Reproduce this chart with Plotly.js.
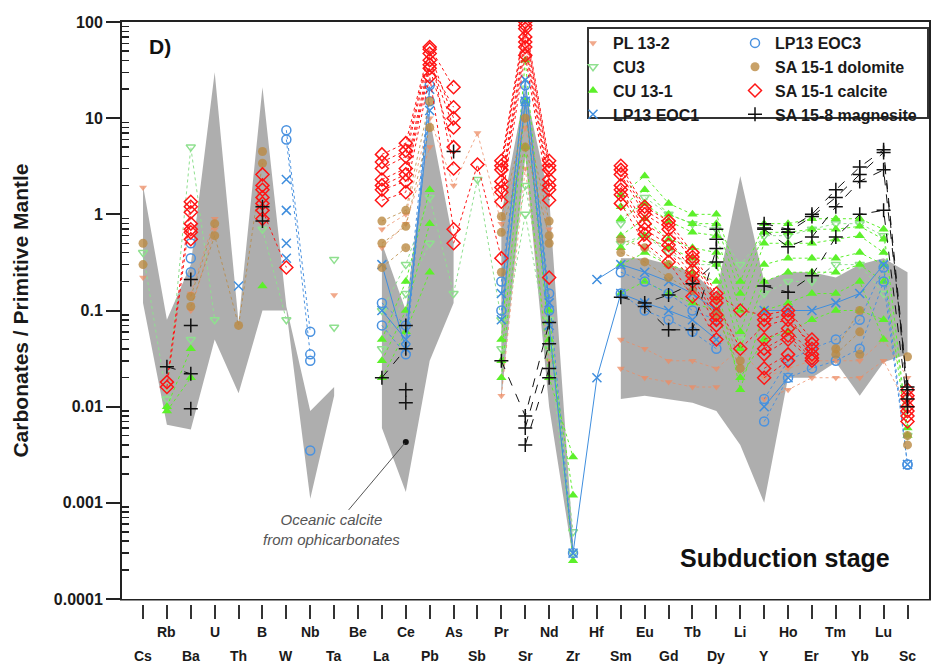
<!DOCTYPE html>
<html><head><meta charset="utf-8">
<script src="https://cdn.plot.ly/plotly-3.0.1.min.js"></script>
<style>html,body{margin:0;padding:0;background:#fff}#chart{width:932px;height:670px}</style>
</head><body><div id="chart"></div>
<script>
const _ = null;
// Element order (x categories)
const elements = ['Cs','Rb','Ba','U','Th','B','W','Nb','Ta','Be','La','Ce','Pb','As','Sb','Pr','Sr','Nd','Zr','Hf','Sm','Eu','Gd','Tb','Dy','Li','Y','Ho','Er','Tm','Yb','Lu','Sc'];
const yTickVals = [0.0001, 0.001, 0.01, 0.1, 1, 10, 100];
const yTickText = ['0.0001', '0.001', '0.01', '0.1', '1', '10', '100'];

// Oceanic calcite from ophicarbonates (grey field): upper / lower bounds
const fieldUpper = [2.0, 0.08, 0.3, 30, 0.075, 21, 0.11, 0.009, 0.016, _, 0.5, 0.1, 10, 0.5, _, 1.0, 20, 1.5, 0.0004, _, 0.35, 0.35, 0.3, 0.25, 0.15, 2.5, 0.2, 0.25, 0.25, 0.22, 0.3, 0.35, 0.25];
const fieldLower = [0.12, 0.0065, 0.0058, 0.05, 0.0138, 0.1, 0.1, 0.0011, 0.013, _, 0.006, 0.0013, 0.03, 0.12, _, 0.012, 4, 0.01, 0.00026, _, 0.012, 0.013, 0.012, 0.011, 0.009, 0.004, 0.001, 0.02, 0.02, 0.029, 0.013, 0.029, 0.035];
const oceanicX = ['Ce'];
const oceanicY = [0.0043];

// PL 13-2
const pl13_2 = [
  [1.9, _, 0.15, 0.9, _, _, _, _, 0.145, _, 0.7, 1.0, 10, 2.0, 7, 0.8, 8, 0.7, _, _, 0.05, 0.04, 0.03, 0.03, 0.025, 0.04, 0.02, 0.025, 0.03, 0.03, 0.03, 0.05, 0.02],
  [0.22, _, 0.1, 0.7, _, _, _, _, _, _, 0.45, 0.8, 5, _, _, 0.013, 3, 0.03, _, _, 0.025, 0.02, 0.018, 0.016, 0.016, _, 0.012, 0.015, 0.02, 0.02, 0.02, 0.03, 0.01]
];
// CU3
const cu3 = [
  [0.4, 0.012, 5, 0.08, _, 0.7, 0.08, _, 0.34, _, 0.1, 0.3, 1.5, 0.15, 2.3, 0.08, 2, 0.08, 0.0005, _, 0.8, 1.5, 1.0, 0.8, 0.7, 0.3, 0.6, 0.6, 0.7, 0.8, 0.8, 0.6, 0.005],
  [_, _, 0.05, _, _, _, _, _, 0.067, _, 0.04, 0.15, 0.5, _, _, 0.04, 1, 0.04, 0.0003, _, 0.5, 0.6, 0.4, 0.3, 0.3, 0.05, 0.15, 0.2, 0.2, 0.3, 0.3, 0.15, _]
];
// CU 13-1
const cu13_1 = [
  [_, 0.01, 0.04, _, _, 0.18, _, _, _, _, 0.05, 0.2, 1.8, _, _, 0.05, 40, 0.1, 0.00025, _, 1.6, 2.5, 1.3, 1.0, 1.0, 0.2, 0.8, 0.8, 0.9, 0.9, 0.9, 0.7, 0.006],
  [_, 0.009, 0.02, _, _, _, _, _, _, _, 0.03, 0.1, 0.8, _, _, 0.03, 15, 0.05, 0.0012, _, 0.6, 0.9, 0.55, 0.45, 0.4, 0.06, 0.3, 0.35, 0.35, 0.35, 0.4, 0.3, 0.005],
  [_, _, _, _, _, _, _, _, _, _, 0.02, 0.06, 0.25, _, _, 0.02, 5, 0.02, 0.003, _, 0.15, 0.2, 0.15, 0.12, 0.1, 0.02, 0.05, 0.06, 0.08, 0.1, 0.1, 0.08, _],
  [_, _, _, _, _, _, _, _, _, _, _, _, _, _, _, _, _, _, _, _, 0.3, 0.4, 0.3, 0.25, 0.2, 0.015, 0.1, 0.12, 0.15, 0.15, 0.2, 0.05, _],
  [_, _, _, _, _, _, _, _, _, _, _, _, _, _, _, _, _, _, _, _, 0.9, 1.3, 0.85, 0.65, 0.6, 0.1, 0.5, 0.5, 0.5, 0.55, 0.6, 0.4, _],
  [_, _, _, _, _, _, _, _, _, _, _, _, _, _, _, _, _, _, _, _, 1.2, 1.8, 1.0, 0.8, 0.8, 0.15, 0.65, 0.65, 0.7, 0.7, 0.75, 0.55, _],
  [_, _, _, _, _, _, _, _, _, _, _, _, _, _, _, _, _, _, _, _, 0.45, 0.6, 0.45, 0.35, 0.3, 0.04, 0.2, 0.25, 0.25, 0.25, 0.3, 0.2, _]
];
// LP13 EOC1
const lp13eoc1 = [
  [_, _, _, _, 0.18, _, 2.3, _, _, _, 0.3, 0.04, 20, _, _, 0.15, 25, 0.12, _, 0.21, 0.3, 0.25, 0.2, 0.15, 0.1, _, 0.1, 0.1, 0.1, 0.12, 0.15, 0.3, _],
  [_, _, _, _, _, _, 1.1, _, _, _, 0.1, 0.05, 12, _, _, 0.08, 15, 0.07, 0.0003, 0.02, 0.15, 0.12, 0.1, 0.08, 0.05, _, 0.01, 0.02, _, _, _, _, 0.0025],
  [_, _, _, _, _, _, 0.5, _, _, _, _, _, _, _, _, _, _, _, _, _, _, _, _, _, _, _, _, _, _, _, _, _, _],
  [_, _, _, _, _, _, 0.35, _, _, _, _, _, _, _, _, _, _, _, _, _, _, _, _, _, _, _, _, _, _, _, _, _, _]
];
// LP13 EOC3
const lp13eoc3 = [
  [_, _, 0.5, _, _, _, 7.5, 0.06, _, _, 0.12, 0.07, 22, _, _, 0.2, 22, 0.15, 0.0003, _, 0.25, 0.2, 0.15, 0.1, 0.08, _, 0.012, 0.03, 0.04, 0.05, 0.08, 0.28, 0.0025],
  [_, _, 0.35, _, _, _, 6, 0.035, _, _, 0.07, 0.035, 15, _, _, 0.1, 15, 0.1, _, _, 0.15, 0.1, 0.08, 0.06, 0.04, _, 0.007, 0.02, 0.025, 0.03, 0.04, 0.2, 0.0025],
  [_, _, 0.25, _, _, _, _, 0.03, _, _, _, _, _, _, _, _, _, _, _, _, _, _, _, _, _, _, _, _, _, _, _, _, _],
  [_, _, _, _, _, _, _, 0.0035, _, _, _, _, _, _, _, _, _, _, _, _, _, _, _, _, _, _, _, _, _, _, _, _, _]
];
// SA 15-1 dolomite
const sa15_1dol = [
  [0.5, _, 0.14, 0.8, _, 4.5, _, _, _, _, 0.85, 1.1, 15, _, _, 0.95, 10, 0.85, _, _, 0.55, 0.45, 0.3, 0.22, 0.13, 0.03, _, _, _, 0.04, 0.1, _, 0.033],
  [0.3, _, 0.11, 0.6, 0.07, 3.4, _, _, _, _, 0.5, 0.75, 8, _, _, 0.65, 5, 0.6, _, _, 0.4, 0.32, 0.22, 0.16, 0.09, 0.025, _, _, _, 0.035, 0.06, _, 0.004],
  [_, _, _, _, _, _, _, _, _, _, 0.28, 0.45, _, _, _, 0.25, _, 0.5, _, _, _, _, _, _, _, _, _, _, _, _, 0.035, _, 0.005]
];
// SA 15-1 calcite
const sa15_1cal = [
  [_, 0.018, 1.35, _, _, 2.6, _, _, _, _, 4.2, 5.5, 55, 21, _, 3.6, 100, 3.6, _, _, 3.2, 1.2, 0.85, 0.4, 0.15, 0.1, 0.09, 0.1, 0.05, _, _, _, 0.015],
  [_, 0.016, 1.05, _, _, 2.0, _, _, _, _, 3.0, 4.0, 47, 10, _, 2.9, 85, 2.9, _, _, 2.6, 1.0, 0.7, 0.33, 0.12, 0.04, 0.07, 0.08, 0.045, _, _, _, 0.012],
  [_, _, 1.2, _, _, 1.8, _, _, _, _, 3.5, 4.6, 52, 3, _, 3.2, 92, 3.2, _, _, 2.9, 1.1, 0.78, 0.36, 0.135, _, 0.08, 0.09, 0.04, _, _, _, 0.013],
  [_, _, 0.8, _, _, 1.5, _, _, _, _, 2.3, 3.0, 40, 8, _, 2.2, 70, 2.3, _, _, 2.0, 0.8, 0.55, 0.26, 0.09, _, 0.05, 0.065, 0.035, _, _, _, 0.01],
  [_, _, 0.7, _, _, 1.3, _, _, _, _, 2.0, 2.6, 36, 13, _, 1.9, 62, 2.0, _, _, 1.8, 0.7, 0.48, 0.23, 0.08, _, 0.04, 0.055, 0.032, _, _, _, 0.009],
  [_, _, 0.65, _, _, 1.1, 0.28, _, _, _, 1.8, 2.2, 33, 5, _, 1.7, 55, 1.8, _, _, 1.6, 0.62, 0.42, 0.2, 0.07, _, 0.035, 0.05, 0.03, _, _, _, 0.008],
  [_, _, 0.55, _, _, 0.9, _, _, _, _, 1.4, 1.7, 27, 0.7, _, 1.35, 45, 1.4, _, _, 1.3, 0.5, 0.32, 0.14, 0.05, _, 0.025, 0.035, _, _, _, _, 0.007],
  [_, _, _, _, _, _, _, _, _, _, _, _, _, 0.5, 3.3, 0.35, _, 0.22, _, _, _, _, _, _, _, _, 0.02, 0.03, _, _, _, _, _]
];
// SA 15-8 magnesite
const sa15_8mag = [
  [_, 0.026, 0.022, _, _, 1.2, _, _, _, _, 0.02, 0.04, _, 4.5, _, 0.03, 0.008, 0.075, _, _, 0.137, 0.12, 0.145, 0.19, 0.32, _, 0.8, 0.7, 1.0, 1.8, 3.1, 4.7, 0.015],
  [_, _, 0.0095, _, _, 0.85, _, _, _, _, _, 0.07, _, _, _, _, 0.006, 0.045, _, _, _, 0.11, 0.063, 0.063, 0.44, _, 0.72, 0.65, 0.95, 1.5, 2.6, 4.4, 0.012],
  [_, _, 0.21, _, _, _, _, _, _, _, _, 0.015, _, _, _, _, 0.004, 0.025, _, _, _, _, _, _, 0.7, _, 0.18, 0.155, 0.23, 0.58, 1.0, 1.1, 0.01],
  [_, _, 0.07, _, _, _, _, _, _, _, _, 0.011, _, _, _, _, _, 0.02, _, _, _, _, _, _, 0.55, _, 0.7, 0.46, 0.58, 1.2, 2.2, 2.9, 0.016]
];

const FONT = 'Arial, "Liberation Sans", Helvetica, sans-serif';

const series = [
  {name:'PL 13-2', data:pl13_2, symbol:'triangle-down', color:'rgba(236,140,100,0.75)', size:7, open:false, dash:'dot', legend:'legend'},
  {name:'CU3', data:cu3, symbol:'triangle-down-open', color:'#8fe08f', size:8, open:true, dash:'dot', legend:'legend'},
  {name:'CU 13-1', data:cu13_1, symbol:'triangle-up', color:'#5cf02a', size:9, open:false, dash:'dot', legend:'legend'},
  {name:'LP13 EOC1', data:lp13eoc1, symbol:'x-thin-open', color:'#3f8ede', size:9, open:true, dash:'solid', legend:'legend'},
  {name:'LP13 EOC3', data:lp13eoc3, symbol:'circle-open', color:'#4a92e0', size:9, open:true, dash:'dot', legend:'legend2'},
  {name:'SA 15-1 dolomite', data:sa15_1dol, symbol:'circle', color:'rgba(186,138,66,0.8)', size:9, open:false, dash:'dot', legend:'legend2'},
  {name:'SA 15-1 calcite', data:sa15_1cal, symbol:'diamond-open', color:'#ff1515', size:10, open:true, dash:'dot', legend:'legend2'},
  {name:'SA 15-8 magnesite', data:sa15_8mag, symbol:'cross-thin-open', color:'#111111', size:10, open:true, dash:'dash', legend:'legend2'}
];

const traces = [];

// grey field polygons built from contiguous segments
const segs = []; let cur = [];
elements.forEach((el, i) => {
  if (fieldUpper[i] != null && fieldLower[i] != null) cur.push(i);
  else { if (cur.length) segs.push(cur); cur = []; }
});
if (cur.length) segs.push(cur);
segs.forEach(seg => {
  const xs = seg.map(i => elements[i]);
  const ys = seg.map(i => fieldUpper[i]);
  const rev = seg.slice().reverse();
  traces.push({
    type:'scatter', mode:'lines', fill:'toself',
    x: xs.concat(rev.map(i => elements[i])),
    y: ys.concat(rev.map(i => fieldLower[i])),
    fillcolor:'rgba(160,160,160,0.85)', line:{width:0, color:'rgba(0,0,0,0)'},
    showlegend:false, hoverinfo:'skip'
  });
});

series.forEach(s => {
  s.data.forEach(sample => {
    traces.push({
      type:'scatter', mode:'lines+markers', x: elements, y: sample,
      connectgaps:false, showlegend:false, hoverinfo:'skip',
      line:{color:s.color, width:1, dash:s.dash},
      marker:{symbol:s.symbol, size:s.size, color:s.color, line:{width:s.open ? 1.5 : 0, color:s.color}}
    });
  });
});

traces.push({
  type:'scatter', mode:'markers', x: oceanicX, y: oceanicY, showlegend:false, hoverinfo:'skip',
  marker:{symbol:'circle', size:6, color:'#111'}
});

// legend entries (markers only)
series.forEach(s => {
  traces.push({
    type:'scatter', mode:'markers', x:[null], y:[null], name:s.name, showlegend:true, legend:s.legend,
    marker:{symbol:s.symbol, size:s.size, color:s.color, line:{width:s.open ? 1.5 : 0, color:s.color}}
  });
});

// minor log tick marks (2..9 of each decade), on an overlaying y axis
const minorVals = [];
for (let d = -4; d < 2; d++) for (let k = 2; k <= 9; k++) minorVals.push(k * Math.pow(10, d));
traces.push({type:'scatter', mode:'markers', x:[null], y:[null], yaxis:'y2', showlegend:false, hoverinfo:'skip'});

const plotL = 122, plotR = 929, plotT = 22, plotB = 599;
const W = plotR - plotL, H = plotB - plotT;
const px = v => (v - plotL) / W;
const py = v => (plotB - v) / H;

const annotations = elements.map((el, i) => ({
  x: i, xref:'x', y: (i % 2 === 1) ? py(632) : py(656), yref:'paper',
  text: el, showarrow:false, xanchor:'center', yanchor:'middle',
  font:{size:14, weight:'bold', color:'#1a1a1a', family:FONT}
}));
annotations.push({
  x: px(147), y: py(33), xref:'paper', yref:'paper', xanchor:'left', yanchor:'top',
  text:'D)', showarrow:false, font:{size:21, weight:'bold', color:'#111', family:FONT}
});
annotations.push({
  x: px(785), y: py(558), xref:'paper', yref:'paper', xanchor:'center', yanchor:'middle',
  text:'Subduction stage', showarrow:false, font:{size:25, weight:'bold', color:'#111', family:FONT}
});
annotations.push({
  x: elements.indexOf(oceanicX[0]), y: Math.log10(oceanicY[0]), xref:'x', yref:'y',
  text:'Oceanic calcite<br>from ophicarbonates', showarrow:true, arrowhead:0, arrowwidth:1,
  arrowcolor:'#555', ax:-74, ay:88, standoff:2,
  font:{size:15, style:'italic', color:'#555', family:FONT}
});

const layout = {
  width:932, height:670,
  margin:{l:plotL, r:932 - plotR, t:plotT, b:670 - plotB},
  paper_bgcolor:'#fff', plot_bgcolor:'#fff',
  font:{family:FONT, color:'#1a1a1a'},
  xaxis:{
    type:'category', categoryorder:'array', categoryarray:elements,
    range:[-0.88, 32.9], showgrid:false, zeroline:false,
    showline:true, linecolor:'#222', linewidth:2, mirror:true,
    ticks:'outside', ticklen:18, tickwidth:2, tickcolor:'#333',
    showticklabels:false, fixedrange:true
  },
  yaxis:{
    type:'log', range:[-4, 2], tickmode:'array', tickvals:yTickVals, ticktext:yTickText,
    ticks:'outside', ticklen:14, tickwidth:2, tickcolor:'#222',
    showline:true, linecolor:'#222', linewidth:2, mirror:true,
    showgrid:false, zeroline:false,
    tickfont:{size:16, weight:'bold', color:'#1a1a1a', family:FONT},
    title:{text:'Carbonates / Primitive Mantle', font:{size:21, weight:'bold', color:'#1a1a1a', family:FONT}, standoff:20},
    fixedrange:true
  },
  yaxis2:{
    type:'log', range:[-4, 2], overlaying:'y', side:'left', anchor:'x',
    tickmode:'array', tickvals:minorVals, ticks:'inside', ticklen:7, tickwidth:1.5, tickcolor:'#222',
    showticklabels:false, showline:false, showgrid:false, zeroline:false, fixedrange:true
  },
  showlegend:true,
  legend:{x:px(573), y:py(26), xanchor:'left', yanchor:'top', bgcolor:'rgba(0,0,0,0)', borderwidth:0,
    font:{size:16, weight:'bold', color:'#1a1a1a', family:FONT}, tracegroupgap:0, itemwidth:30},
  legend2:{x:px(735), y:py(26), xanchor:'left', yanchor:'top', bgcolor:'rgba(0,0,0,0)', borderwidth:0,
    font:{size:16, weight:'bold', color:'#1a1a1a', family:FONT}, tracegroupgap:0, itemwidth:30},
  shapes:[
    {type:'line', xref:'paper', x0:0, x1:1, yref:'y', y0:0, y1:0, line:{color:'rgba(115,115,115,0.9)', width:2.5}, layer:'above'},
    {type:'rect', xref:'paper', yref:'paper', x0:-0.005, x1:1.005, y0:py(605), y1:py(600.5), fillcolor:'#fff', line:{width:0}, layer:'above'},
    {type:'rect', xref:'paper', yref:'paper', x0:px(588), x1:px(928), y0:py(118), y1:py(28), fillcolor:'#fff', line:{color:'#333', width:2}, layer:'above'}
  ],
  annotations: annotations
};

Plotly.newPlot('chart', traces, layout, {displayModeBar:false, staticPlot:true});
</script>
</body></html>
